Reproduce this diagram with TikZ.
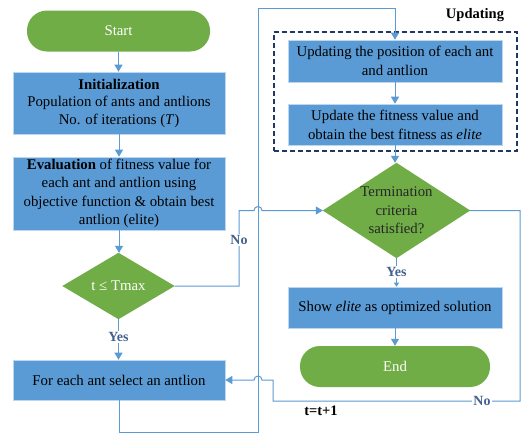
\documentclass[tikz,border=0pt]{standalone}
\usepackage{fontspec}
\setmainfont{Liberation Serif}
\usetikzlibrary{arrows.meta,backgrounds}
\definecolor{boxblue}{HTML}{5B9BD5}
\definecolor{leafgreen}{HTML}{70AD47}
\definecolor{navy}{HTML}{203864}
\definecolor{labelblue}{HTML}{44628F}

\begin{document}
\begin{tikzpicture}[x=1pt,y=-1pt,
  font=\fontsize{14.8}{17.5}\selectfont,
  procbox/.style={rectangle, fill=boxblue, draw=white!60!boxblue, line width=0.6pt,
    align=center, inner sep=2pt, minimum width=212pt},
  terminal/.style={rectangle, rounded corners=20pt, fill=leafgreen, text=white,
    align=center, minimum height=41pt},
  decision/.style={rectangle, align=center, inner sep=0pt},
  flow/.style={draw=boxblue, line width=1pt, -{Triangle[length=7pt,width=8pt]}},
  smallflow/.style={draw=boxblue, line width=1pt, -{Triangle[length=4pt,width=5pt]}},
  branch/.style={font=\fontsize{14}{15}\selectfont\bfseries, text=labelblue,
    fill=white, inner sep=1pt},
  note/.style={font=\fontsize{14.5}{15}\selectfont\bfseries, text=black, inner sep=1pt},
]
\useasboundingbox (0,0) rectangle (522,434);

% left column
\node[terminal, minimum width=183pt] (start) at (118.5,31) {Start};
\node[procbox, minimum height=62pt] (init) at (119,103)
  {\textbf{Initialization}\\Population of ants and antlions\\No. of iterations (\textit{T})};
\node[procbox, minimum height=73pt, font=\fontsize{14.8}{18.5}\selectfont] (eval) at (119,193.5)
  {\textbf{Evaluation} of fitness value for\\each ant and antlion using\\objective function \& obtain best\\antlion (elite)};
\node[decision, minimum width=112pt, minimum height=66pt, text=white] (dec1) at (118.5,286) {t ≤ Tmax};
\node[procbox, minimum height=40pt] (foreach) at (119,380) {For each ant select an antlion};

% right column
\node[procbox, minimum width=214pt, minimum height=42pt, font=\fontsize{14.8}{19}\selectfont] (upd1) at (395,61)
  {Updating the position of each ant\\and antlion};
\node[procbox, minimum width=214pt, minimum height=41pt, font=\fontsize{14.8}{19}\selectfont] (upd2) at (395,124.5)
  {Update the fitness value and\\obtain the best fitness as \textit{elite}};
\node[draw=navy, dashed, dash pattern=on 5pt off 3pt, line width=1.2pt,
  minimum width=243pt, minimum height=119pt] (group) at (395.5,91.5) {};
\node[note] (grouplabel) at (475,15) {Updating};
\node[decision, minimum width=147pt, minimum height=95pt, text=black!85,
  font=\fontsize{14.8}{18.5}\selectfont] (term) at (396.5,210.5)
  {Termination\\criteria\\satisfied?};
\node[procbox, minimum width=214pt, minimum height=41pt] (show) at (395,307.5)
  {Show \textit{elite} as optimized solution};
\node[terminal, minimum width=190pt] (end) at (395,366.5) {End};

% decision shapes and page background
\begin{pgfonlayer}{background}
  \fill[white] (0,0) rectangle (522,434);
  \fill[leafgreen] (dec1.west) -- (dec1.north) -- (dec1.east) -- (dec1.south) -- cycle;
  \fill[leafgreen] (term.west) -- (term.north) -- (term.east) -- (term.south) -- cycle;
\end{pgfonlayer}

% routing points
\coordinate (noturn) at (239,210.5);
\coordinate (hopA) at (254,210.5);
\coordinate (busBottom) at (258,432);
\coordinate (busTop) at (258,8);
\coordinate (rightBottom) at (520,401);
\coordinate (returnBottom) at (273,401);
\coordinate (hopB) at (262,380);

% main flow
\draw[flow] (start.south) -- (start.south |- init.north);
\draw[flow] (init.south) -- (init.south |- eval.north);
\draw[flow] (eval.south) -- (eval.south |- dec1.north);
\draw[flow] (dec1.south) -- (dec1.south |- foreach.north);
\draw[flow] (foreach.south) |- (busBottom) -- (busTop) -| (upd1.north);
\draw[flow] (upd1.south) -- (upd1.south |- upd2.north);
\draw[flow] (upd2.south) -- (upd2.south |- term.north);
\draw[smallflow] (term.south) -- (term.south |- show.north);
\draw[flow] (show.south) -- (show.south |- end.north);

% decision branches with hops over the bus line
\draw[flow] (dec1.east) -| (noturn) -- (hopA)
  arc[start angle=180, end angle=0, radius=4pt] -- (term.west);
\draw[flow] (term.east) -| (rightBottom) -- (returnBottom) |- (hopB)
  arc[start angle=0, end angle=180, radius=4pt] -- (foreach.east);

% branch labels
\node[branch] (yes1) at (118.5,337) {Yes};
\node[branch] (yes2) at (396.5,272) {Yes};
\node[branch] (no1) at (239,240) {No};
\node[branch] (no2) at (482,401) {No};
\node[note] (incr) at (321,411) {t=t+1};
\end{tikzpicture}
\end{document}
